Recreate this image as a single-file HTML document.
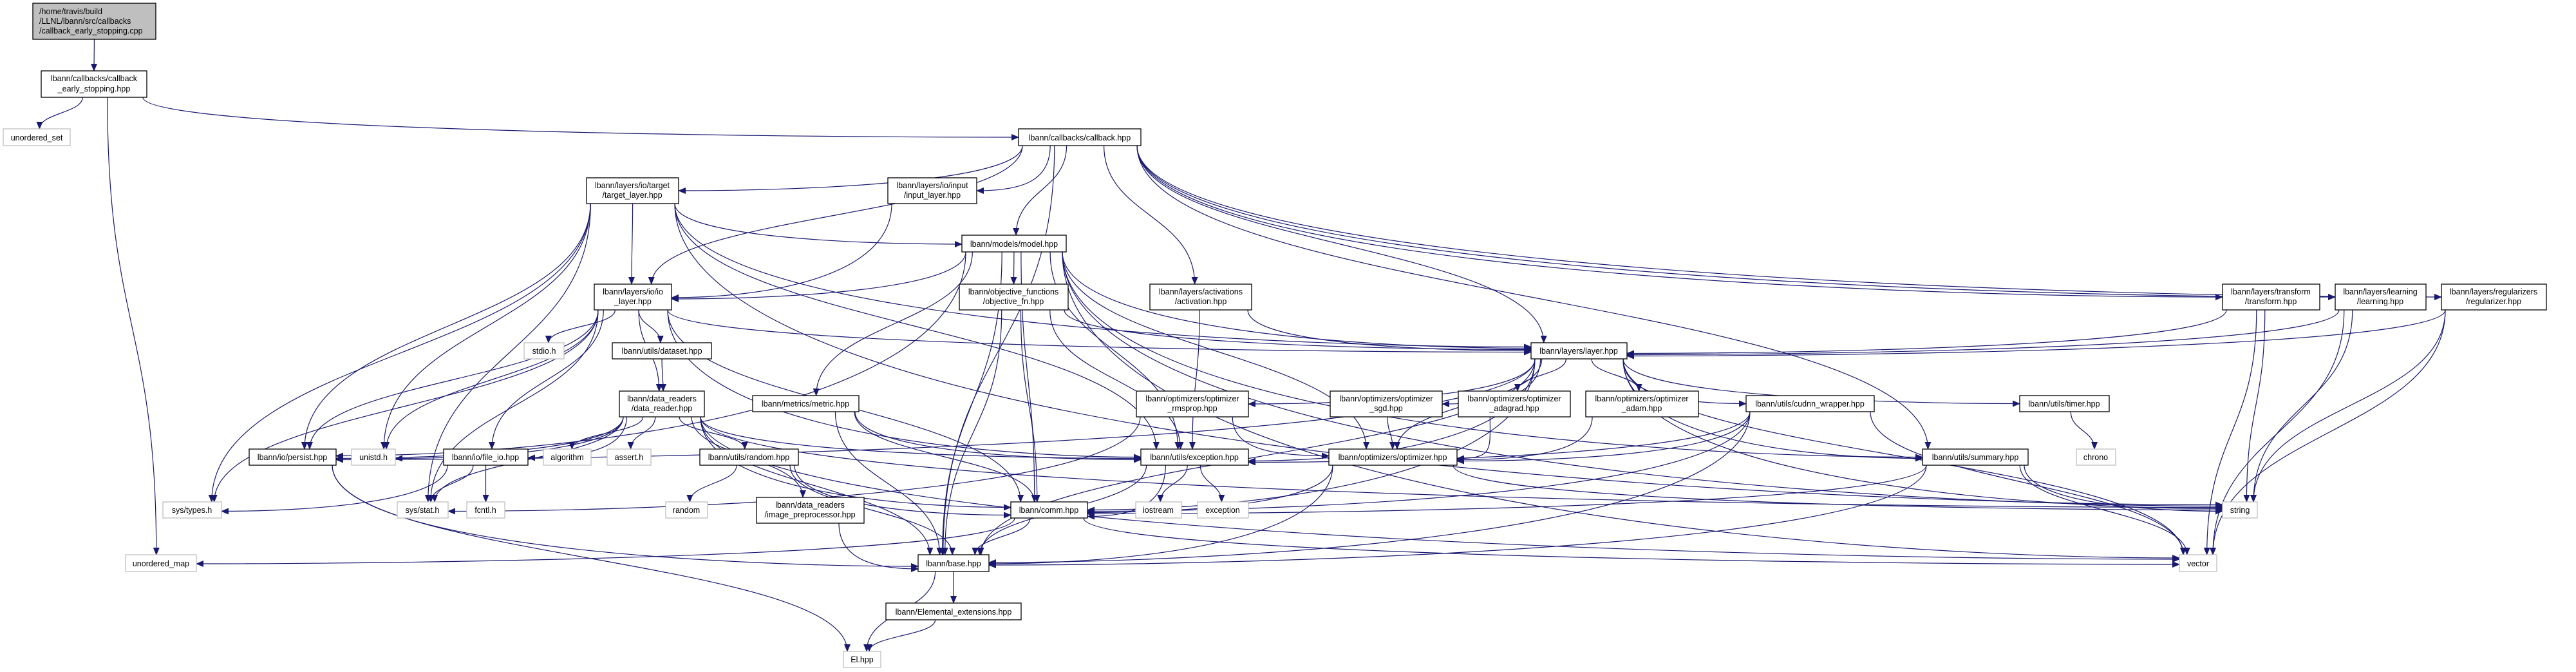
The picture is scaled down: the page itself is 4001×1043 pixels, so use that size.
<!DOCTYPE html>
<html><head><meta charset="utf-8"><style>
html,body{margin:0;padding:0;background:#fff;}
svg{display:block;}
text{font-family:"Liberation Sans",Arial,sans-serif;font-size:12.5px;fill:#000;}
</style></head><body>
<svg id="g" width="4001" height="1043" viewBox="0 0 4001 1043" xmlns="http://www.w3.org/2000/svg">
<defs><marker id="ah" markerWidth="12" markerHeight="10" refX="11" refY="5" orient="auto" markerUnits="userSpaceOnUse"><path d="M0,0 L12,5 L0,10 z" fill="#191970"/></marker></defs>
<g id="edges" fill="none" stroke="#191970" stroke-width="1.2"></g>
<g id="nodes" stroke-width="1.3">
<rect x="51" y="5" width="191" height="56" fill="#bfbfbf" stroke="#000"/>
<text x="61" y="22">/home/travis/build</text><text x="61" y="37">/LLNL/lbann/src/callbacks</text><text x="61" y="52">/callback_early_stopping.cpp</text>
<rect x="64" y="110" width="164" height="41" fill="#fff" stroke="#000"/>
<text x="146" y="126" text-anchor="middle">lbann/callbacks/callback</text><text x="146" y="142" text-anchor="middle">_early_stopping.hpp</text>
<rect x="5" y="200" width="104" height="26" fill="#fff" stroke="#bfbfbf"/><text x="57" y="218" text-anchor="middle">unordered_set</text>
<rect x="1582" y="200" width="190" height="26" fill="#fff" stroke="#000"/><text x="1677" y="218" text-anchor="middle">lbann/callbacks/callback.hpp</text>
<rect x="911" y="276" width="143" height="40" fill="#fff" stroke="#000"/><text x="982" y="292" text-anchor="middle">lbann/layers/io/target</text><text x="982" y="307" text-anchor="middle">/target_layer.hpp</text>
<rect x="1379" y="276" width="138" height="40" fill="#fff" stroke="#000"/><text x="1448" y="292" text-anchor="middle">lbann/layers/io/input</text><text x="1448" y="307" text-anchor="middle">/input_layer.hpp</text>
<rect x="1494" y="365" width="162" height="26" fill="#fff" stroke="#000"/><text x="1575" y="383" text-anchor="middle">lbann/models/model.hpp</text>
<rect x="1490" y="441" width="169" height="40" fill="#fff" stroke="#000"/><text x="1574" y="457" text-anchor="middle">lbann/objective_functions</text><text x="1574" y="472" text-anchor="middle">/objective_fn.hpp</text>
<rect x="1786" y="441" width="158" height="40" fill="#fff" stroke="#000"/><text x="1865" y="457" text-anchor="middle">lbann/layers/activations</text><text x="1865" y="472" text-anchor="middle">/activation.hpp</text>
<rect x="3452" y="441" width="151" height="40" fill="#fff" stroke="#000"/><text x="3527" y="457" text-anchor="middle">lbann/layers/transform</text><text x="3527" y="472" text-anchor="middle">/transform.hpp</text>
<rect x="3627" y="441" width="141" height="40" fill="#fff" stroke="#000"/><text x="3697" y="457" text-anchor="middle">lbann/layers/learning</text><text x="3697" y="472" text-anchor="middle">/learning.hpp</text>
<rect x="3792" y="441" width="163" height="40" fill="#fff" stroke="#000"/><text x="3873" y="457" text-anchor="middle">lbann/layers/regularizers</text><text x="3873" y="472" text-anchor="middle">/regularizer.hpp</text>
<rect x="923" y="441" width="120" height="40" fill="#fff" stroke="#000"/><text x="983" y="457" text-anchor="middle">lbann/layers/io/io</text><text x="983" y="472" text-anchor="middle">_layer.hpp</text>
<rect x="2378" y="532" width="149" height="25" fill="#fff" stroke="#000"/><text x="2452" y="549" text-anchor="middle">lbann/layers/layer.hpp</text>
<rect x="814" y="532" width="62" height="25" fill="#fff" stroke="#bfbfbf"/><text x="845" y="549" text-anchor="middle">stdio.h</text>
<rect x="951" y="532" width="154" height="25" fill="#fff" stroke="#000"/><text x="1028" y="549" text-anchor="middle">lbann/utils/dataset.hpp</text>
<rect x="962" y="607" width="132" height="40" fill="#fff" stroke="#000"/><text x="1028" y="623" text-anchor="middle">lbann/data_readers</text><text x="1028" y="638" text-anchor="middle">/data_reader.hpp</text>
<rect x="1169" y="614" width="165" height="25" fill="#fff" stroke="#000"/><text x="1251" y="631" text-anchor="middle">lbann/metrics/metric.hpp</text>
<rect x="1765" y="607" width="174" height="40" fill="#fff" stroke="#000"/><text x="1852" y="623" text-anchor="middle">lbann/optimizers/optimizer</text><text x="1852" y="638" text-anchor="middle">_rmsprop.hpp</text>
<rect x="2066" y="607" width="174" height="40" fill="#fff" stroke="#000"/><text x="2153" y="623" text-anchor="middle">lbann/optimizers/optimizer</text><text x="2153" y="638" text-anchor="middle">_sgd.hpp</text>
<rect x="2265" y="607" width="174" height="40" fill="#fff" stroke="#000"/><text x="2352" y="623" text-anchor="middle">lbann/optimizers/optimizer</text><text x="2352" y="638" text-anchor="middle">_adagrad.hpp</text>
<rect x="2463" y="607" width="175" height="40" fill="#fff" stroke="#000"/><text x="2550" y="623" text-anchor="middle">lbann/optimizers/optimizer</text><text x="2550" y="638" text-anchor="middle">_adam.hpp</text>
<rect x="2712" y="614" width="199" height="25" fill="#fff" stroke="#000"/><text x="2811" y="631" text-anchor="middle">lbann/utils/cudnn_wrapper.hpp</text>
<rect x="3137" y="614" width="139" height="25" fill="#fff" stroke="#000"/><text x="3206" y="631" text-anchor="middle">lbann/utils/timer.hpp</text>
<rect x="387" y="697" width="135" height="25" fill="#fff" stroke="#000"/><text x="454" y="714" text-anchor="middle">lbann/io/persist.hpp</text>
<rect x="546" y="697" width="68" height="25" fill="#fff" stroke="#bfbfbf"/><text x="580" y="714" text-anchor="middle">unistd.h</text>
<rect x="689" y="697" width="131" height="25" fill="#fff" stroke="#000"/><text x="754" y="714" text-anchor="middle">lbann/io/file_io.hpp</text>
<rect x="844" y="697" width="74" height="25" fill="#fff" stroke="#bfbfbf"/><text x="881" y="714" text-anchor="middle">algorithm</text>
<rect x="943" y="697" width="68" height="25" fill="#fff" stroke="#bfbfbf"/><text x="977" y="714" text-anchor="middle">assert.h</text>
<rect x="1087" y="697" width="153" height="25" fill="#fff" stroke="#000"/><text x="1163" y="714" text-anchor="middle">lbann/utils/random.hpp</text>
<rect x="1772" y="697" width="167" height="25" fill="#fff" stroke="#000"/><text x="1855" y="714" text-anchor="middle">lbann/utils/exception.hpp</text>
<rect x="2064" y="697" width="199" height="25" fill="#fff" stroke="#000"/><text x="2163" y="714" text-anchor="middle">lbann/optimizers/optimizer.hpp</text>
<rect x="2986" y="697" width="164" height="25" fill="#fff" stroke="#000"/><text x="3068" y="714" text-anchor="middle">lbann/utils/summary.hpp</text>
<rect x="3225" y="697" width="61" height="25" fill="#fff" stroke="#bfbfbf"/><text x="3255" y="714" text-anchor="middle">chrono</text>
<rect x="253" y="779" width="91" height="25" fill="#fff" stroke="#bfbfbf"/><text x="298" y="796" text-anchor="middle">sys/types.h</text>
<rect x="617" y="779" width="79" height="25" fill="#fff" stroke="#bfbfbf"/><text x="656" y="796" text-anchor="middle">sys/stat.h</text>
<rect x="725" y="779" width="59" height="25" fill="#fff" stroke="#bfbfbf"/><text x="754" y="796" text-anchor="middle">fcntl.h</text>
<rect x="1034" y="779" width="65" height="25" fill="#fff" stroke="#bfbfbf"/><text x="1066" y="796" text-anchor="middle">random</text>
<rect x="1175" y="772" width="167" height="40" fill="#fff" stroke="#000"/><text x="1258" y="788" text-anchor="middle">lbann/data_readers</text><text x="1258" y="803" text-anchor="middle">/image_preprocessor.hpp</text>
<rect x="1570" y="779" width="119" height="25" fill="#fff" stroke="#000"/><text x="1629" y="796" text-anchor="middle">lbann/comm.hpp</text>
<rect x="1764" y="779" width="71" height="25" fill="#fff" stroke="#bfbfbf"/><text x="1799" y="796" text-anchor="middle">iostream</text>
<rect x="1860" y="779" width="79" height="25" fill="#fff" stroke="#bfbfbf"/><text x="1899" y="796" text-anchor="middle">exception</text>
<rect x="3452" y="779" width="54" height="25" fill="#fff" stroke="#bfbfbf"/><text x="3479" y="796" text-anchor="middle">string</text>
<rect x="1426" y="861" width="110" height="26" fill="#fff" stroke="#000"/><text x="1481" y="879" text-anchor="middle">lbann/base.hpp</text>
<rect x="3385" y="861" width="58" height="26" fill="#fff" stroke="#bfbfbf"/><text x="3414" y="879" text-anchor="middle">vector</text>
<rect x="195" y="861" width="110" height="26" fill="#fff" stroke="#bfbfbf"/><text x="250" y="879" text-anchor="middle">unordered_map</text>
<rect x="1376" y="936" width="210" height="26" fill="#fff" stroke="#000"/><text x="1481" y="954" text-anchor="middle">lbann/Elemental_extensions.hpp</text>
<rect x="1310" y="1011" width="58" height="25" fill="#fff" stroke="#bfbfbf"/><text x="1339" y="1028" text-anchor="middle">El.hpp</text>
</g>
</svg>
<script>
var N={root:[51,5,242,61],ces:[64,110,228,151],uset:[5,200,109,226],cb:[1582,200,1772,226],target:[911,276,1054,316],input:[1379,276,1517,316],model:[1494,365,1656,391],objfn:[1490,441,1659,481],act:[1786,441,1944,481],transform:[3452,441,3603,481],learning:[3627,441,3768,481],reg:[3792,441,3955,481],io:[923,441,1043,481],layer:[2378,532,2527,557],stdio:[814,532,876,557],dataset:[951,532,1105,557],dr:[962,607,1094,647],metric:[1169,614,1334,639],rms:[1765,607,1939,647],sgd:[2066,607,2240,647],adagrad:[2265,607,2439,647],adam:[2463,607,2638,647],cudnn:[2712,614,2911,639],timer:[3137,614,3276,639],persist:[387,697,522,722],unistd:[546,697,614,722],fileio:[689,697,820,722],algo:[844,697,918,722],assert:[943,697,1011,722],rndh:[1087,697,1240,722],exch:[1772,697,1939,722],opt:[2064,697,2263,722],summary:[2986,697,3150,722],chrono:[3225,697,3286,722],types:[253,779,344,804],stat:[617,779,696,804],fcntl:[725,779,784,804],rnd:[1034,779,1099,804],img:[1175,772,1342,812],comm:[1570,779,1689,804],iostream:[1764,779,1835,804],exc:[1860,779,1939,804],string:[3452,779,3506,804],base:[1426,861,1536,887],vector:[3385,861,3443,887],umap:[195,861,305,887],elem:[1376,936,1586,962],El:[1310,1011,1368,1036]};
var E="root ces,ces uset,ces umap,ces cb,cb target,cb input,cb model,cb act,cb io,cb layer,cb base,cb summary,cb transform,cb learning,cb reg,target io,target model,target layer,target exch,target string,target unistd,target types,target stat,target persist,input io,model layer,model objfn,model metric,model persist,model comm,model base,model exch,model opt,model summary,model string,model vector,model io,objfn layer,objfn exch,objfn comm,objfn base,act layer,act exch,io stdio,io dataset,io dr,io persist,io unistd,io fileio,io types,io stat,io exch,io layer,io comm,dataset dr,dr persist,dr unistd,dr fileio,dr algo,dr assert,dr rndh,dr img,dr base,dr comm,dr exch,dr stat,dr vector,dr string,metric comm,metric base,metric exch,layer rms,layer sgd,layer adagrad,layer adam,layer cudnn,layer timer,layer summary,layer opt,layer exch,layer comm,layer base,layer persist,layer string,layer vector,rms opt,rms stat,sgd opt,adagrad opt,adam opt,cudnn opt,cudnn comm,cudnn base,cudnn vector,cudnn exch,timer chrono,opt comm,opt base,opt string,summary comm,summary base,summary string,summary vector,persist base,persist El,fileio types,fileio stat,fileio fcntl,rndh rnd,rndh comm,rndh base,img base,exch iostream,exch exc,exch comm,exch base,comm base,comm umap,comm vector,base elem,base El,elem El,transform layer,transform string,transform vector,learning layer,learning string,learning vector,reg layer,reg string,reg vector".split(",");
function cl(v,a,b){return Math.max(a,Math.min(b,v));}
var g=document.getElementById("edges"),ns="http://www.w3.org/2000/svg",d="";
var inc={};
E.forEach(function(e){var p=e.split(" ");inc[p[1]]=(inc[p[1]]||0)+1;});
var seen={};
E.forEach(function(e){
 var p=e.split(" "),A=N[p[0]],B=N[p[1]];
 var acx=(A[0]+A[2])/2,bcx=(B[0]+B[2])/2,acy=(A[1]+A[3])/2,bcy=(B[1]+B[3])/2;
 var k=seen[p[1]]=(seen[p[1]]||0)+1,off=(k-(inc[p[1]]+1)/2)*4;
 var sx,sy,ex,ey,path;
 if(B[1]>A[3]+5){
   var dx=bcx-acx,dy=B[1]-A[3];
   sx=cl(acx+dx*0.2,A[0]+6,A[2]-6);sy=A[3];
   if(Math.abs(dx)>3.5*dy){
     ex=dx>0?B[0]:B[2];ey=bcy+off*0.5;
     path="M"+sx+","+sy+" C"+sx+","+(sy+(ey-sy)*0.8)+" "+(ex-dx*0.3)+","+ey+" "+ex+","+ey;
   }else{
     ex=cl(bcx-dx*0.05+off,B[0]+6,B[2]-6);ey=B[1];
     path="M"+sx+","+sy+" C"+sx+","+(sy+dy*0.5)+" "+ex+","+(ey-dy*0.5)+" "+ex+","+ey;
   }
 }else if(B[3]<A[1]-5){
   sx=acx;sy=A[1];ex=bcx;ey=B[3];
   path="M"+sx+","+sy+" C"+sx+","+(sy-40)+" "+ex+","+(ey+40)+" "+ex+","+ey;
 }else{
   if(bcx>acx){sx=A[2];ex=B[0];}else{sx=A[0];ex=B[2];}
   sy=acy;ey=bcy+off*0.5;
   path="M"+sx+","+sy+" C"+((sx+ex)/2)+","+sy+" "+((sx+ex)/2)+","+ey+" "+ex+","+ey;
 }
 d+='<path d="'+path+'" marker-end="url(#ah)"/>';
});
g.innerHTML=d;
</script>
</body></html>
